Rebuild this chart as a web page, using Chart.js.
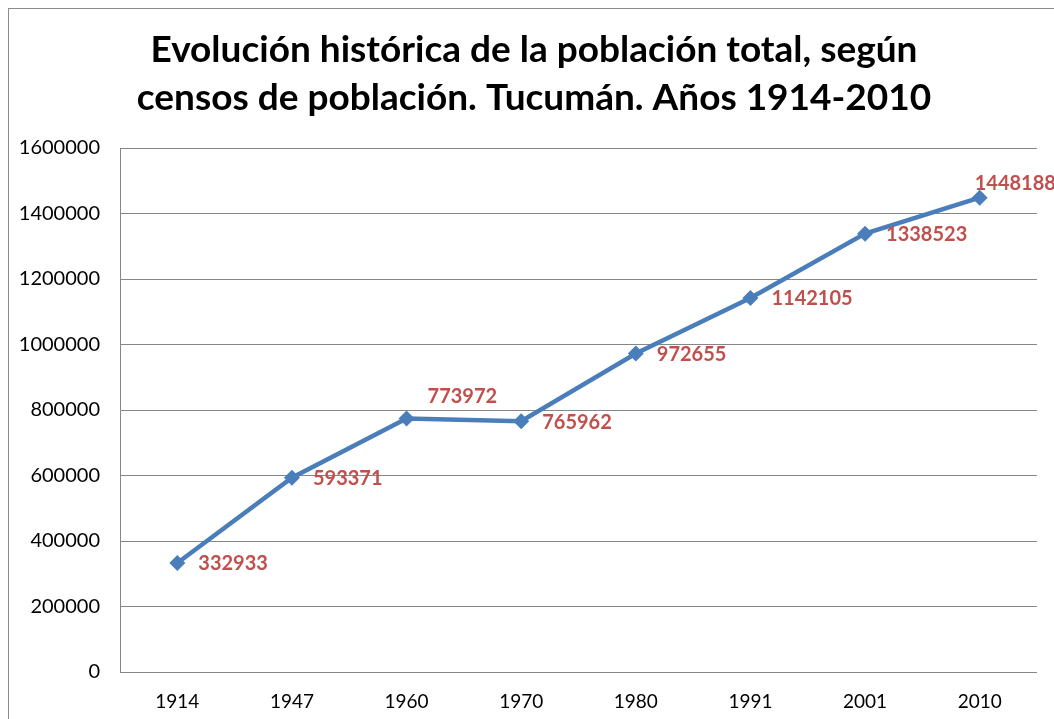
<!DOCTYPE html>
<html>
<head>
<meta charset="utf-8">
<script src="https://cdn.jsdelivr.net/npm/chart.js@4.4.1/dist/chart.umd.min.js"></script>
<style>
  html, body { margin: 0; padding: 0; background: #fff; overflow: hidden; }
  #wrap { position: relative; width: 1054px; height: 719px; }
  #frame { position: absolute; left: 8px; top: 8px; width: 1100px; height: 800px; border: 1px solid #8c8c8c; pointer-events: none; }
</style>
</head>
<body>
<div id="wrap">
  <canvas id="chart" width="1054" height="719"></canvas>
  <div id="frame"></div>
</div>
<script>
  /* ---- Data ---- */
  const years = ['1914', '1947', '1960', '1970', '1980', '1991', '2001', '2010'];
  const population = [332933, 593371, 773972, 765962, 972655, 1142105, 1338523, 1448188];
  const labelSide = ['right', 'right', 'above', 'right', 'right', 'right', 'right', 'top'];
  const titleLines = ['Evolución histórica de la población total, según', 'censos de población. Tucumán. Años 1914-2010'];

  const FONT = 'Lato, "Open Sans", sans-serif';

  const titlePlugin = {
    id: 'titleText',
    afterDraw(chart) {
      const ctx = chart.ctx;
      ctx.save();
      ctx.fillStyle = '#000';
      ctx.font = `bold 37px ${FONT}`;
      ctx.textAlign = 'center';
      ctx.textBaseline = 'middle';
      ctx.fillText(titleLines[0], 534, 50);
      ctx.fillText(titleLines[1], 534, 98);
      ctx.restore();
    },
  };

  const valueLabels = {
    id: 'valueLabels',
    afterDatasetsDraw(chart) {
      const ctx = chart.ctx;
      const meta = chart.getDatasetMeta(0);
      ctx.save();
      ctx.fillStyle = '#C0504D';
      ctx.font = `bold 20px ${FONT}`;
      ctx.textBaseline = 'middle';
      ctx.textAlign = 'left';
      meta.data.forEach((pt, i) => {
        let x = pt.x + 21, y = pt.y + 1;
        if (labelSide[i] === 'above') { y = pt.y - 22; }
        if (labelSide[i] === 'top') { x = pt.x - 5; y = pt.y - 14; }
        ctx.fillText(String(population[i]), x, y);
      });
      ctx.restore();
    },
  };

  new Chart(document.getElementById('chart'), {
    type: 'line',
    data: {
      labels: years,
      datasets: [{
        data: population,
        borderColor: '#4A7EBB',
        backgroundColor: '#4A7EBB',
        borderWidth: 4.5,
        tension: 0,
        pointStyle: 'rectRot',
        pointRadius: 8,
        pointHoverRadius: 8,
        pointBorderWidth: 0,
      }],
    },
    options: {
      responsive: false,
      animation: false,
      events: [],
      layout: { padding: { top: 148, right: 17, bottom: 0, left: 0 } },
      plugins: { legend: { display: false }, title: { display: false }, tooltip: { enabled: false } },
      scales: {
        x: {
          offset: true,
          grid: { display: false, drawTicks: false },
          border: { display: false },
          ticks: { color: '#000', font: { family: FONT, size: 19 }, padding: 18, maxRotation: 0 },
          afterFit: (s) => { s.height = 47; },
        },
        y: {
          min: 0,
          max: 1600000,
          ticks: { stepSize: 200000, color: '#000', font: { family: FONT, size: 20 }, padding: 20, callback: (v) => String(v) },
          grid: { color: '#868686', lineWidth: 1, drawTicks: false },
          border: { display: true, color: '#868686', width: 1 },
          afterFit: (s) => { s.width = 120; },
        },
      },
    },
    plugins: [titlePlugin, valueLabels],
  });
</script>
</body>
</html>
